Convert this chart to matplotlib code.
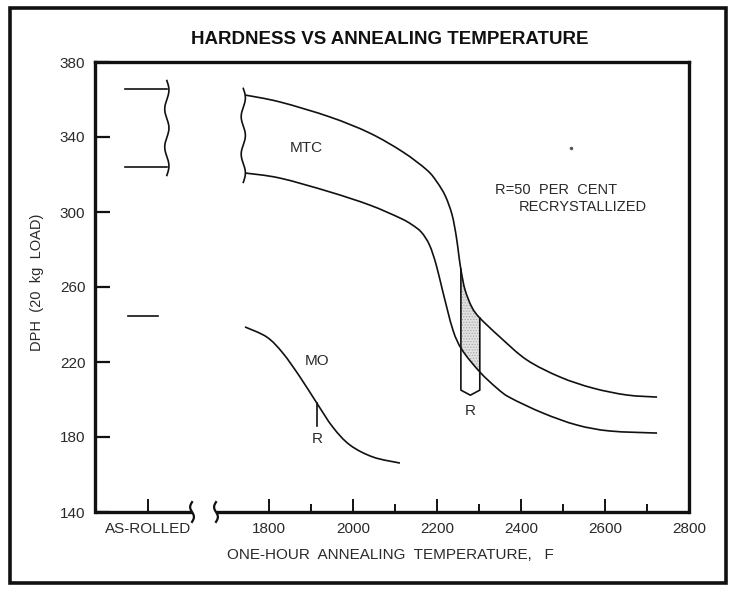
import numpy as np
import matplotlib
matplotlib.use("Agg")
import matplotlib.pyplot as plt
from matplotlib.patches import Rectangle, PathPatch
from matplotlib.path import Path
from matplotlib.ticker import FixedLocator
import matplotlib.transforms as mtransforms

# ---------------- data ----------------
mtc_upper_T = [1743, 1826, 1945, 2040, 2119, 2176, 2200, 2220, 2236, 2246, 2252, 2258,
               2267, 2283, 2302, 2350, 2414, 2493, 2571, 2652, 2724]
mtc_upper_D = [362.4, 358.7, 350.7, 342.1, 332.0, 322.4, 316.0, 308.5, 298.5, 287.0, 277.0,
               268.0, 258.4, 249.3, 243.5, 233.3, 221.1, 212.0, 206.1, 202.4, 201.3]
mtc_lower_T = [1743, 1826, 1945, 2040, 2112, 2140, 2163, 2182, 2198, 2214, 2238, 2260, 2302,
               2343, 2374, 2452, 2533, 2612, 2724]
mtc_lower_D = [320.8, 318.1, 310.7, 303.7, 296.8, 293.3, 289.2, 282.5, 272.0, 257.5, 237.1,
               226.4, 214.7, 206.0, 201.0, 192.8, 186.4, 183.2, 182.1]
mo_T = [1743, 1795, 1833, 1874, 1914, 1952, 1993, 2048, 2112]
mo_D = [238.7, 233.3, 224.8, 212.0, 198.1, 185.3, 175.7, 169.3, 166.1]

asrolled_T = [1457, 1557]          # extent of as-rolled MTC band
asrolled_mtc = [365.6, 324.0]      # upper / lower hardness
asrolled_mo_T = [1464, 1536]
asrolled_mo = 244.3

r_band_T = [2257, 2302]            # 50% recrystallized band for MTC
r_band_bottom = 205.0
r_band_tip = 202.3
r_mo_T = 1914
r_mo_bottom = 186.0

x_major = [1512, 1800, 2000, 2200, 2400, 2600, 2800]
x_major_labels = ["AS-ROLLED", "1800", "2000", "2200", "2400", "2600", "2800"]
x_minor = [1900, 2100, 2300, 2500, 2700]
y_ticks = [140, 180, 220, 260, 300, 340, 380]
x_break = [1617, 1674]

title = "HARDNESS VS ANNEALING TEMPERATURE"
xlabel = "ONE-HOUR  ANNEALING  TEMPERATURE,   F"
ylabel = "DPH  (20  kg  LOAD)"

# ---------------- figure ----------------
plt.rcParams["hatch.linewidth"] = 0.6
W, H = 735, 593
fig = plt.figure(figsize=(W / 100, H / 100), dpi=100)
ax = fig.add_axes([95 / W, 1 - 512 / H, (689 - 95) / W, (512 - 62) / H])
XMIN, XMAX = 1386, 2800
ax.set_xlim(XMIN, XMAX)
ax.set_ylim(140, 380)

ink = "#111111"
txt = "#2a2a2a"
font = ["Liberation Sans", "DejaVu Sans"]
lw_spine = 2.4
lw_curve = 1.2

for s in ["left", "top", "right"]:
    ax.spines[s].set_linewidth(lw_spine)
    ax.spines[s].set_color(ink)
ax.spines["bottom"].set_visible(False)

# bottom axis line with break
ax.plot([XMIN, x_break[0]], [140, 140], color=ink, lw=lw_spine, clip_on=False,
        solid_capstyle="butt")
ax.plot([x_break[1], XMAX], [140, 140], color=ink, lw=lw_spine, clip_on=False,
        solid_capstyle="butt")
trans_xa = mtransforms.blended_transform_factory(ax.transData, ax.transAxes)
s = np.linspace(-1, 1, 60)
for xb in x_break:
    xs = xb + 4.5 * np.sin(np.pi * s)
    ax.plot(xs, -0.022 * s, transform=trans_xa, color=ink, lw=1.6, clip_on=False)

# ticks
ax.xaxis.set_major_locator(FixedLocator(x_major))
ax.set_xticklabels(x_major_labels)
ax.xaxis.set_minor_locator(FixedLocator(x_minor))
ax.yaxis.set_major_locator(FixedLocator(y_ticks))
ax.tick_params(axis="x", which="major", direction="in", length=9.5, width=1.4,
               color=ink, pad=7, labelsize=11, labelcolor=txt)
ax.tick_params(axis="x", which="minor", direction="in", length=6, width=1.4, color=ink)
ax.tick_params(axis="y", which="major", direction="in", length=11, width=1.6,
               color=ink, pad=7, labelsize=11, labelcolor=txt)
for lab in ax.get_xticklabels() + ax.get_yticklabels():
    lab.set_family(font)


def smooth_curve(xs, ys, **kw):
    """Draw a smooth (Catmull-Rom as cubic Bezier) path through the given points."""
    P = np.column_stack([xs, ys]).astype(float)
    n = len(P)
    verts = [P[0]]
    codes = [Path.MOVETO]
    for i in range(n - 1):
        p0 = P[i - 1] if i > 0 else P[i]
        p1, p2 = P[i], P[i + 1]
        p3 = P[i + 2] if i + 2 < n else P[i + 1]
        c1 = p1 + (p2 - p0) / 6.0
        c2 = p2 - (p3 - p1) / 6.0
        verts += [c1, c2, p2]
        codes += [Path.CURVE4] * 3
    ax.add_patch(PathPatch(Path(verts, codes), fill=False, **kw))


smooth_curve(mtc_upper_T, mtc_upper_D, edgecolor=ink, lw=lw_curve, zorder=3)
smooth_curve(mtc_lower_T, mtc_lower_D, edgecolor=ink, lw=lw_curve, zorder=3)
smooth_curve(mo_T, mo_D, edgecolor=ink, lw=lw_curve, zorder=3)

# as-rolled marks
ax.plot(asrolled_T, [asrolled_mtc[0]] * 2, color=ink, lw=lw_curve)
ax.plot(asrolled_T, [asrolled_mtc[1]] * 2, color=ink, lw=lw_curve)
ax.plot(asrolled_mo_T, [asrolled_mo] * 2, color=ink, lw=lw_curve)


def squiggle(x0, ytop, ybot, amp=5.0, periods=2.5):
    ys = np.linspace(ytop, ybot, 200)
    xs = x0 + amp * np.sin(2 * np.pi * periods * (ys - ytop) / (ybot - ytop))
    ax.plot(xs, ys, color=ink, lw=lw_curve)


squiggle(asrolled_T[1], asrolled_mtc[0] + 4.5, asrolled_mtc[1] - 4.5)
squiggle(mtc_upper_T[0] - 4, mtc_upper_D[0] + 3.5, mtc_lower_D[0] - 5)

# recrystallization band (shaded)
bx = np.linspace(r_band_T[0], r_band_T[1], 60)
up = np.interp(bx, mtc_upper_T, mtc_upper_D)
lo = np.interp(bx, mtc_lower_T, mtc_lower_D)
ax.fill_between(bx, lo, up, facecolor="#e2e2e2", edgecolor="none", zorder=1)
ax.fill_between(bx, lo, up, facecolor="none", edgecolor="#a8a8a8", hatch="......",
                linewidth=0, zorder=1)
mid = 0.5 * (r_band_T[0] + r_band_T[1])
outline_x = [r_band_T[0], r_band_T[0], mid, r_band_T[1], r_band_T[1]]
outline_y = [up[0], r_band_bottom, r_band_tip, r_band_bottom, up[-1]]
ax.plot(outline_x, outline_y, color=ink, lw=lw_curve)

# MO R marker
mo_r_top = np.interp(r_mo_T, mo_T, mo_D)
ax.plot([r_mo_T, r_mo_T], [mo_r_top, r_mo_bottom], color=ink, lw=lw_curve)

# labels
tk = dict(color=txt, family=font, fontsize=11)
ax.text(1888, 334, "MTC", ha="center", va="center", **tk)
ax.text(1914, 220.5, "MO", ha="center", va="center", **tk)
ax.text(r_mo_T, 179, "R", ha="center", va="center", **tk)
ax.text(mid, 194, "R", ha="center", va="center", **tk)
ax.text(2338, 311.7, "R=50  PER  CENT", ha="left", va="center", color=txt,
        family=font, fontsize=10.5)
ax.text(2395, 302.6, "RECRYSTALLIZED", ha="left", va="center", color=txt,
        family=font, fontsize=10.5)
ax.plot([2519], [334], marker="o", ms=1.5, color="#555555")

fig.text(390 / W, 1 - 555 / H, xlabel, ha="center", va="center", **tk)
fig.text(37 / W, 1 - 282 / H, ylabel, ha="center", va="center", rotation=90,
         color=txt, family=font, fontsize=10.5)
fig.text(390 / W, 1 - 40 / H, title, ha="center", va="center", fontsize=13.5,
         fontweight="bold", color=ink, family=font)

# outer frame
fig.patches.append(Rectangle((10 / W, 1 - 583 / H), (726 - 10) / W, (583 - 8) / H,
                             transform=fig.transFigure, fill=False, edgecolor=ink,
                             linewidth=2.6))

fig.savefig("out.png", dpi=100)
